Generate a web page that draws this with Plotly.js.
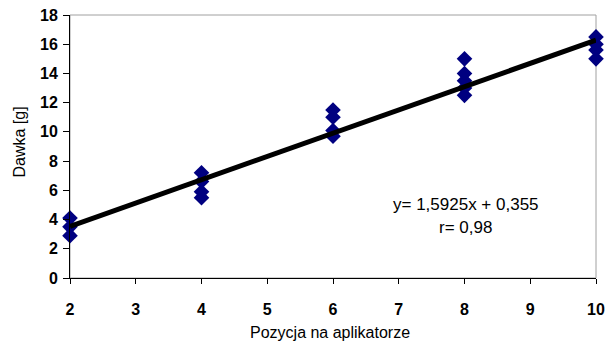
<!DOCTYPE html>
<html>
<head>
<meta charset="utf-8">
<script src="https://cdn.plot.ly/plotly-3.0.1.min.js"></script>
<style>html,body{margin:0;padding:0;background:#fff;}#chart{width:605px;height:342px;}</style>
</head>
<body>
<div id="chart"></div>
<script>
// Data
const position = [2, 2, 2, 4, 4, 4, 4, 6, 6, 6, 6, 8, 8, 8, 8, 8, 10, 10, 10, 10];
const dose = [4.1, 3.5, 2.9, 7.2, 6.6, 5.9, 5.5, 11.5, 11.0, 10.1, 9.7, 15.0, 14.0, 13.5, 13.0, 12.5, 16.5, 16.0, 15.6, 15.0];
const slope = 1.5925;
const intercept = 0.355;
const xTicks = [2, 3, 4, 5, 6, 7, 8, 9, 10];
const yTicks = [0, 2, 4, 6, 8, 10, 12, 14, 16, 18];
const eqText = "y= 1,5925x + 0,355";
const rText = "r= 0,98";
const xTitle = "Pozycja na aplikatorze";
const yTitle = "Dawka [g]";

const xMin = Math.min(...position), xMax = Math.max(...position);
const fitX = [xMin, xMax];
const fitY = fitX.map(v => slope * v + intercept);

const FONT = "Liberation Sans, Arial, sans-serif";

const traces = [
  {
    x: position, y: dose, type: 'scatter', mode: 'markers', cliponaxis: false,
    marker: {symbol: 'diamond', size: 12, color: '#000080', line: {width: 0}},
    hoverinfo: 'skip', showlegend: false
  },
  {
    x: fitX, y: fitY, type: 'scatter', mode: 'lines', cliponaxis: false,
    line: {color: '#000000', width: 5},
    hoverinfo: 'skip', showlegend: false
  }
];

const layout = {
  width: 605, height: 342,
  margin: {l: 70, r: 9, t: 15, b: 64, pad: 0},
  paper_bgcolor: '#ffffff', plot_bgcolor: '#ffffff',
  showlegend: false,
  font: {family: FONT, color: '#000000'},
  xaxis: {
    range: [2, 10], tickvals: xTicks, ticktext: xTicks.map(String),
    ticks: 'outside', ticklen: 5, tickcolor: '#000000', tickwidth: 1,
    showline: true, linecolor: '#000000', linewidth: 1,
    showgrid: false, zeroline: false,
    tickfont: {family: FONT, size: 16, weight: 'bold', color: '#000000'},
    ticklabelstandoff: 12
  },
  yaxis: {
    range: [0, 18], tickvals: yTicks, ticktext: yTicks.map(String),
    ticks: 'outside', ticklen: 6, tickcolor: '#000000', tickwidth: 1,
    showline: true, linecolor: '#000000', linewidth: 1,
    showgrid: false, zeroline: false,
    tickfont: {family: FONT, size: 16, weight: 'bold', color: '#000000'},
    ticklabelstandoff: 2
  },
  shapes: [
    {type: 'rect', xref: 'paper', yref: 'paper', x0: 0, x1: 1, y0: 0, y1: 1,
     line: {color: '#a0a0a0', width: 1}, layer: 'below'}
  ],
  annotations: [
    {xref: 'paper', yref: 'paper', x: (330 - 70) / 526, y: (278 - 332) / 263,
     text: xTitle, showarrow: false, xanchor: 'center', yanchor: 'middle',
     font: {family: FONT, size: 16, color: '#000000'}},
    {xref: 'paper', yref: 'paper', x: (18.5 - 70) / 526, y: (278 - 142) / 263,
     text: yTitle, showarrow: false, textangle: -90, xanchor: 'center', yanchor: 'middle',
     font: {family: FONT, size: 16, color: '#000000'}},
    {xref: 'paper', yref: 'paper', x: (466 - 70) / 526, y: (278 - 204) / 263,
     text: eqText, showarrow: false, xanchor: 'center', yanchor: 'middle',
     font: {family: FONT, size: 17, color: '#000000'}},
    {xref: 'paper', yref: 'paper', x: (465 - 70) / 526, y: (278 - 227) / 263,
     text: rText, showarrow: false, xanchor: 'center', yanchor: 'middle',
     font: {family: FONT, size: 17, color: '#000000'}}
  ]
};

Plotly.newPlot('chart', traces, layout, {staticPlot: true, displayModeBar: false});
</script>
</body>
</html>
